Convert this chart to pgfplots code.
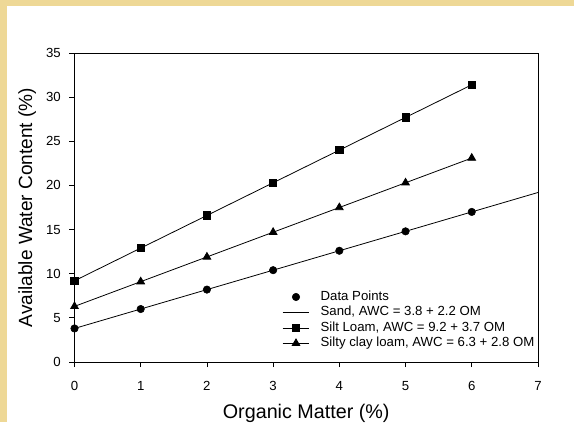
\documentclass[border=0pt]{standalone}
\usepackage{pgfplots}
\pgfplotsset{compat=1.18}
\usepackage{fontspec}
\setmainfont{Liberation Sans}
\definecolor{bandyellow}{RGB}{238,216,150}
\pgfplotsset{
  markonlylegend/.style={legend image code/.code={%
    \path[draw=none,fill=none] (0pt,0pt) -- (28.5pt,0pt);
    \draw[##1] plot coordinates {(10pt,0pt)};}},
}
\begin{document}
\begin{tikzpicture}
\path[use as bounding box] (0pt,0pt) rectangle (430.5pt,316.5pt);
\fill[bandyellow] (0pt,0pt) rectangle (430.5pt,316.5pt);
\fill[white] (5.25pt,0pt) rectangle (430.5pt,312pt);
\begin{axis}[
  at={(55.875pt,45pt)}, anchor=south west,
  scale only axis,
  width=347.6pt, height=231.75pt,
  xmin=0, xmax=7, ymin=0, ymax=35,
  xtick={0,1,...,7}, ytick={0,5,...,35},
  tick align=outside, major tick length=3.75pt,
  xtick pos=bottom, ytick pos=left,
  axis line style={line width=0.6pt},
  tick style={black, line width=0.6pt},
  /pgf/number format/assume math mode=true,
  tick label style={font=\fontsize{9.9}{11}\selectfont},
  xticklabel style={yshift=-7pt},
  yticklabel style={xshift=-3pt},
  xlabel={Organic Matter (\%)},
  ylabel={Available Water Content (\%)},
  xlabel style={font=\fontsize{14.8}{16}\selectfont, at={(axis description cs:0.5,-0.166)}, anchor=center},
  ylabel style={font=\fontsize{14.3}{16}\selectfont, at={(axis description cs:-0.102,0.5)}, anchor=center},
  legend style={draw=none, fill=none, font=\fontsize{9.9}{11.6}\selectfont,
    at={(axis cs:3.134,8.27)}, anchor=north west, row sep=0pt,
    inner sep=0pt, nodes={inner sep=0pt, text height=8.2pt, text depth=3.4pt}},
  legend cell align=left,
  legend image code/.code={%
    \path[draw=none,fill=none] (0pt,0pt) -- (28.5pt,0pt);
    \draw[mark repeat=2,mark phase=2,#1] plot coordinates {(0pt,0pt) (10pt,0pt) (20pt,0pt)};},
]
\addplot[only marks, mark=*, mark size=2.8pt, black, markonlylegend] coordinates {
  (0,3.8) (1,6.0) (2,8.2) (3,10.4) (4,12.6) (5,14.8) (6,17.0)};
\addlegendentry{Data Points}
\addplot[black, line width=0.6pt, no marks] coordinates {(0,3.8) (7,19.2)};
\addlegendentry{Sand, AWC = 3.8 + 2.2 OM}
\addplot[black, line width=0.6pt, mark=square*, mark size=2.7pt] coordinates {
  (0,9.2) (1,12.9) (2,16.6) (3,20.3) (4,24.0) (5,27.7) (6,31.4)};
\addlegendentry{Silt Loam, AWC = 9.2 + 3.7 OM}
\addplot[black, line width=0.6pt, mark=triangle*, mark size=3.3pt] coordinates {
  (0,6.3) (1,9.1) (2,11.9) (3,14.7) (4,17.5) (5,20.3) (6,23.1)};
\addlegendentry{Silty clay loam, AWC = 6.3 + 2.8 OM}
\end{axis}
\end{tikzpicture}
\end{document}
